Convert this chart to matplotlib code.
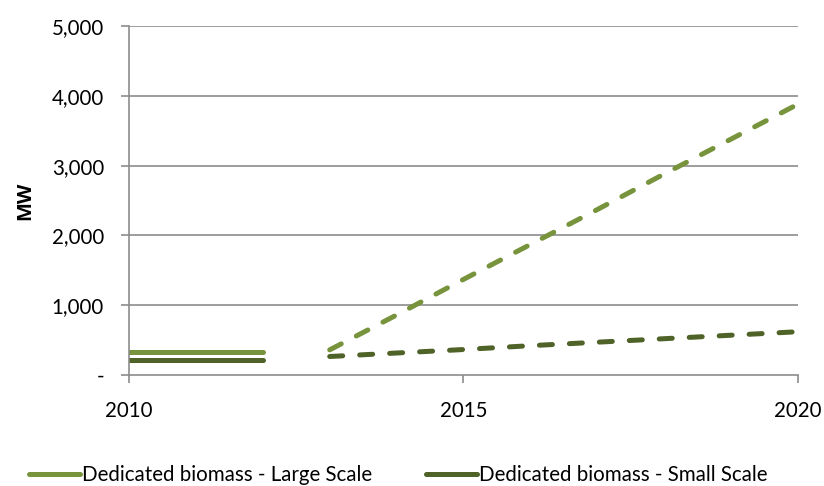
import matplotlib
matplotlib.use('Agg')
from matplotlib import pyplot as plt
from matplotlib.lines import Line2D

plt.rcParams['font.family'] = ['Lato', 'DejaVu Sans']

years_hist = [2010, 2011, 2012]
large_hist = [330, 330, 330]
small_hist = [215, 215, 215]

years_proj = [2013, 2014, 2015, 2016, 2017, 2018, 2019, 2020]
large_proj = [360, 860, 1370, 1870, 2370, 2880, 3380, 3880]
small_proj = [265, 315, 365, 420, 470, 520, 570, 620]

y_ticks = [0, 1000, 2000, 3000, 4000, 5000]
y_labels = ['-', '1,000', '2,000', '3,000', '4,000', '5,000']
x_ticks = [2010, 2015, 2020]

c_large = '#77933C'
c_small = '#4F6228'
grid_c = '#8c8c8c'

fig = plt.figure(figsize=(8.24, 4.86), dpi=100)
ax = fig.add_axes([0.1566, 0.2284, 0.8118, 0.7181])

lw = 3.6
ax.plot(years_hist, large_hist, color=c_large, lw=lw, solid_capstyle='round')
ax.plot(years_hist, small_hist, color=c_small, lw=lw, solid_capstyle='round')
ax.plot(years_proj, large_proj, color=c_large, lw=lw, dashes=(2.6, 3.4),
        dash_capstyle='round')
ax.plot(years_proj, small_proj, color=c_small, lw=lw, dashes=(2.6, 3.4),
        dash_capstyle='round')

ax.set_xlim(2010, 2020)
ax.set_ylim(0, 5000)
ax.set_yticks(y_ticks)
ax.set_yticklabels(y_labels)
ax.set_xticks(x_ticks)
ax.set_xticklabels([str(x) for x in x_ticks])

for y in y_ticks[1:]:
    ax.axhline(y, color=grid_c, lw=1.2, zorder=0)

for s in ['top', 'right']:
    ax.spines[s].set_visible(False)
for s in ['left', 'bottom']:
    ax.spines[s].set_color(grid_c)
    ax.spines[s].set_linewidth(1.2)

ax.tick_params(axis='y', length=6, width=1.2, color=grid_c, labelsize=14.8, pad=12)
ax.tick_params(axis='x', length=6, width=1.2, color=grid_c, labelsize=14.8, pad=13)
ax.set_ylabel('MW', fontsize=14.5, fontweight='bold', family='Open Sans', labelpad=12)

handles = [Line2D([], [], color=c_large, lw=lw, solid_capstyle='round'),
           Line2D([], [], color=c_small, lw=lw, solid_capstyle='round')]
fig.legend(handles, ['Dedicated biomass - Large Scale', 'Dedicated biomass - Small Scale'],
           loc='center', bbox_to_anchor=(0.483, 0.022), ncol=2, frameon=False,
           fontsize=14.8, handlelength=2.5, handletextpad=0.1, columnspacing=2.6)

fig.savefig('out.png', dpi=100)
